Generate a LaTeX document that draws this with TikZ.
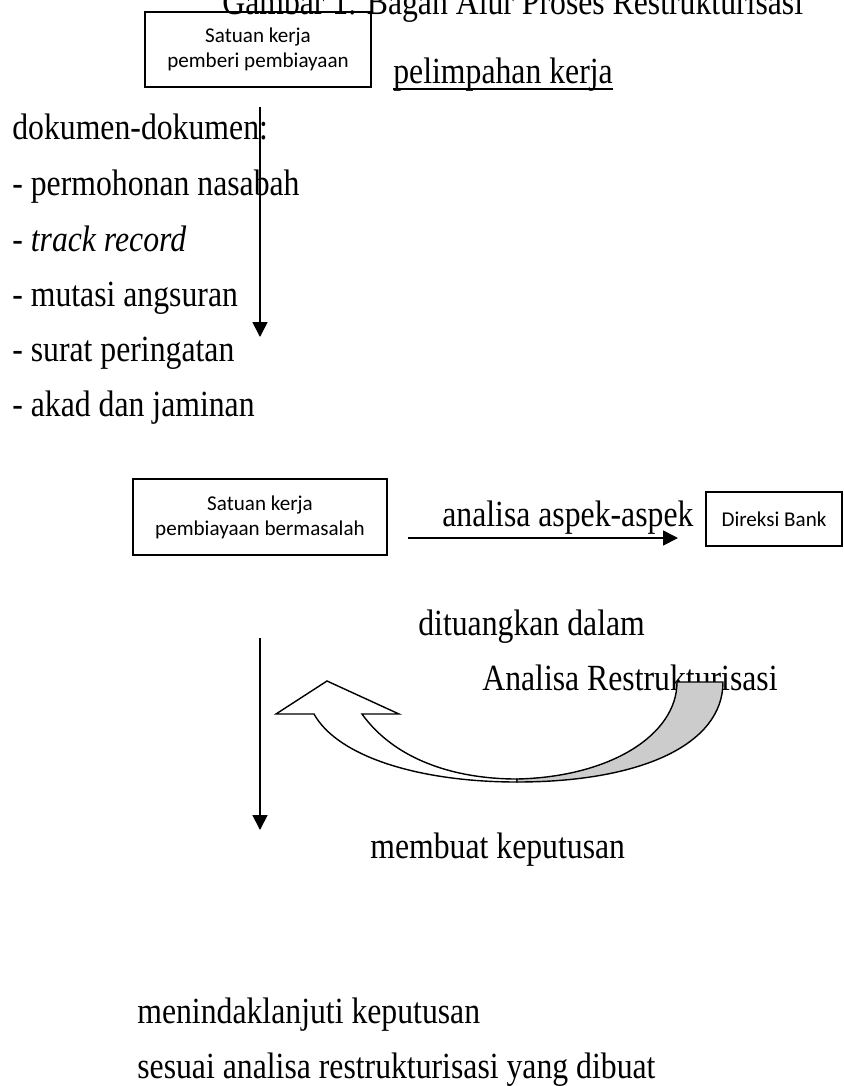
\documentclass[tikz,border=0pt]{standalone}
\usepackage{fontspec}
\setmainfont{Liberation Serif}[FakeStretch=0.86]
\newfontfamily\boxfont{Carlito}
\usepackage{tikz}
\usetikzlibrary{arrows.meta,positioning}

\begin{document}
\begin{tikzpicture}[x=0.02cm,y=-0.02cm,
  txt/.style={inner sep=0pt,anchor=base west,font=\fontsize{21}{25}\selectfont},
  unit/.style={draw,line width=0.8pt,align=center,inner sep=0pt,
    font=\boxfont\fontsize{12}{14.2}\selectfont},
  flow/.style={line width=1pt,-{Triangle[length=0.3cm,width=0.3cm]}}]
\useasboundingbox (0,0) rectangle (844,1086);
% title, cut at the top edge
\node[txt] (title) at (222,14) {Gambar 1. Bagan Alur Proses Restrukturisasi};
% units
\node[unit,minimum width=226*0.02cm,minimum height=75*0.02cm] (skpb) at (258,49.5)
  {Satuan kerja\\pemberi pembiayaan};
\node[unit,minimum width=254*0.02cm,minimum height=76*0.02cm] (skbm) at (260,517)
  {Satuan kerja\\pembiayaan bermasalah};
\node[unit,minimum width=136*0.02cm,minimum height=54*0.02cm] (dirbank) at (774,519)
  {Direksi Bank};
% labels
\node[txt] (limpah) at (393,83) {pelimpahan kerja};
\draw[line width=0.7pt] ([yshift=-3.4pt]limpah.base west) -- ([yshift=-3.4pt]limpah.base east);
\node[txt] (dok) at (12,139) {dokumen-dokumen:};
\node[txt] (dok1) at (12,195) {- permohonan nasabah};
\node[txt] (dok2) at (12,251) {- \textit{track record}};
\node[txt] (dok3) at (12,306) {- mutasi angsuran};
\node[txt] (dok4) at (12,361) {- surat peringatan};
\node[txt] (dok5) at (12,416) {- akad dan jaminan};
\node[txt] (aspek) at (442,526) {analisa aspek-aspek};
\node[txt] (tuang) at (418,635) {dituangkan dalam};
\node[txt] (anres) at (482,690) {Analisa Restrukturisasi};
\node[txt] (putus) at (370,858) {membuat keputusan};
\node[txt] (tindak1) at (137,1023) {menindaklanjuti keputusan};
\node[txt] (tindak2) at (137,1078) {sesuai analisa restrukturisasi yang dibuat};
% connectors
\coordinate (a1s) at (260,107);
\coordinate (a1e) at (260,337);
\coordinate (a2s) at (408,538);
\coordinate (a2e) at (678,538);
\coordinate (a3s) at (260,638);
\coordinate (a3e) at (260,830);
\draw[flow] (a1s) -- (a1e);
\draw[flow] (a2s) -- (a2e);
\draw[flow] (a3s) -- (a3e);
% curved arrow back to the left
\filldraw[fill=white,line width=0.8pt,line join=miter]
  (314,714) -- (276,714) -- (327,681) -- (399,714) -- (362,714)
  .. controls (395,760) and (455,779) .. (517,779)
  -- (517,782) .. controls (420,782) and (338,757) .. (314,714) -- cycle;
\filldraw[fill=black!20,line width=0.8pt]
  (517,782) .. controls (640,782) and (723,745) .. (723,682)
  -- (677,682) .. controls (677,735) and (610,777) .. (517,779) -- cycle;
\end{tikzpicture}
\end{document}
